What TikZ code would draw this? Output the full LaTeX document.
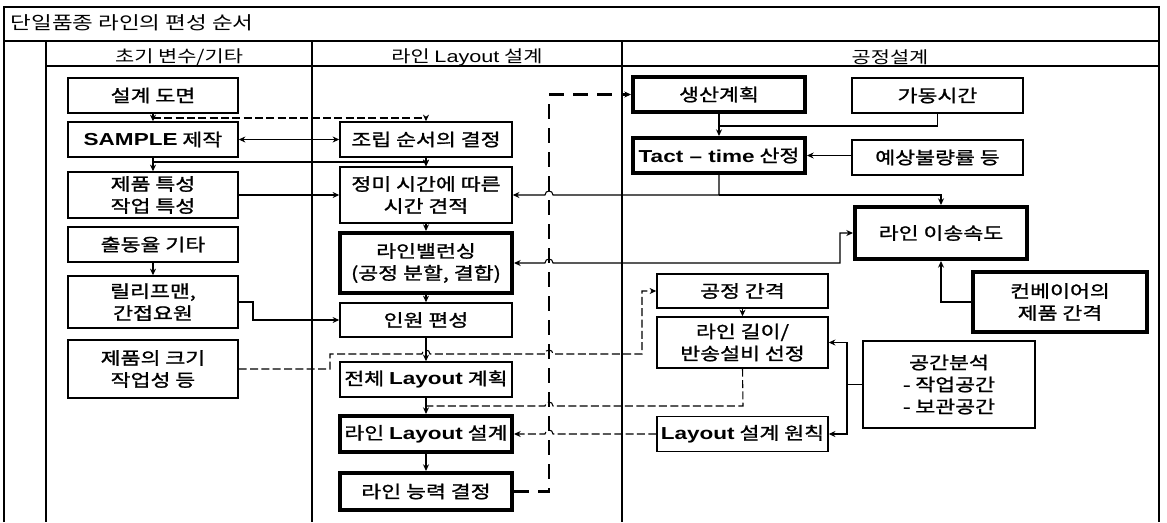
\documentclass[tikz,border=0pt]{standalone}
\usepackage{fontspec}
\setmainfont{Noto Sans CJK KR}[FakeStretch=1.25]
\newfontfamily\krb{Noto Sans CJK KR}[FakeStretch=1.25,FakeBold=1.2]
\newfontfamily\lat{Liberation Sans}[FakeStretch=1.3]
\usetikzlibrary{arrows.meta}
\newcommand\LB[1]{{\lat\bfseries #1}}
\newcommand\LR[1]{{\lat #1}}
\begin{document}
\begin{tikzpicture}[x=0.75pt,y=-0.75pt,
  box/.style={draw,line width=1.1pt,rectangle,align=center,inner sep=0pt,
    font=\krb\fontsize{13pt}{16.5pt}\selectfont},
  bold box/.style={box,line width=3pt},
  sz/.style 2 args={minimum width=#1*0.75pt,minimum height=#2*0.75pt},
  conn/.style={line width=0.8pt},
  dsh/.style={dash pattern=on 6pt off 2.5pt},
  bigdash/.style={line width=1.8pt,dash pattern=on 11pt off 7pt},
  frame/.style={line width=1.1pt},
  head/.style={font=\fontsize{12.5pt}{15pt}\selectfont},
  >={Stealth[length=5pt,width=4.5pt]}]
\useasboundingbox (0,0) rectangle (1167,522);

% frame, title row and lanes
\draw[frame] (4,522) -- (4,7) -- (1159,7) -- (1159,522);
\draw[frame] (4,41) -- (1159,41);
\draw[frame] (46,41) -- (46,522);
\draw[frame] (312,41) -- (312,522);
\draw[frame] (622,41) -- (622,522);
\draw[frame] (46,66) -- (1159,66);

\node[anchor=west,font=\fontsize{13.5pt}{16pt}\selectfont] (title) at (6,23) {단일품종 라인의 편성 순서};
\node[head] (h1) at (179,57) {초기 변수/기타};
\node[head] (h2) at (467,57) {라인 \LR{Layout} 설계};
\node[head] (h3) at (890,57) {공정설계};

% first lane
\node[box,sz={170}{35}] (d1) at (153,95.5) {설계 도면};
\node[box,sz={170}{35}] (sample) at (153,139.5) {\LB{SAMPLE} 제작};
\node[box,sz={170}{46}] (prod) at (153,195) {제품 특성\\작업 특성};
\node[box,sz={170}{35}] (att) at (153,244.5) {출동율 기타};
\node[box,sz={170}{52}] (relief) at (153,302) {릴리프맨,\\간접요원};
\node[box,sz={170}{58}] (size) at (153,369) {제품의 크기\\작업성 등};

% second lane
\node[box,sz={172}{35}] (asm) at (426,139.5) {조립 순서의 결정};
\node[box,sz={172}{56}] (net) at (426,195) {정미 시간에 따른\\시간 견적};
\node[bold box,sz={172}{60}] (bal) at (426,263) {라인밸런싱\\(공정 분할, 결합)};
\node[box,sz={172}{34}] (man) at (426,320) {인원 편성};
\node[box,sz={172}{35}] (whole) at (426,379.5) {전체 \LB{Layout} 계획};
\node[bold box,sz={172}{36}] (lay) at (426,434) {라인 \LB{Layout} 설계};
\node[bold box,sz={172}{37}] (cap) at (426,491.5) {라인 능력 결정};

% third lane
\node[bold box,sz={172}{35}] (plan) at (719,94.5) {생산계획};
\node[box,sz={171}{35}] (oper) at (937.5,95.5) {가동시간};
\node[bold box,sz={172}{35}] (tact) at (719,155.5) {\LB{Tact – time} 산정};
\node[box,sz={171}{35}] (defect) at (937.5,157.5) {예상불량률 등};
\node[bold box,sz={172}{52}] (speed) at (941,233) {라인 이송속도};
\node[bold box,sz={174}{60}] (conv) at (1060,302) {컨베이어의\\제품 간격};
\node[box,sz={171}{34}] (pitch) at (742.5,291) {공정 간격};
\node[box,sz={171}{51}] (len) at (742.5,342.5) {라인 길이/\\반송설비 선정};
\node[box,sz={172}{87}] (space) at (949,384.5) {공간분석\\- 작업공간\\- 보관공간};
\node[box,sz={171}{35}] (rule) at (742.5,434) {\LB{Layout} 설계 원칙};

% connectors of the first two lanes
\draw[conn,->] (d1) -- (sample);
\draw[conn,->,dsh] (d1.south |- 0,118) -| (asm.north);
\draw[conn,<->] (sample) -- (asm);
\draw[conn,->] (sample) -- (prod);
\draw[conn,->] (sample.south |- 0,162) -| (net.north);
\draw[conn,->] (asm) -- (net);
\draw[conn,->] (prod) -- (net);
\draw[conn,->] (att) -- (relief);
\draw[conn,->] (relief.east) -- (253,302) |- (man.west);
\draw[conn,->] (net) -- (bal);
\draw[conn,->] (bal) -- (man);
\draw[conn,->] (man) -- (whole);
\draw[conn,->] (whole) -- (lay);
\draw[conn,->] (lay) -- (cap);
\draw[conn,->,dsh] (size.east) -- (330,369) -- (330,354) -- (422,354)
  .. controls (422,348.7) and (430,348.7) .. (430,354) -- (545,354)
  .. controls (545,348.7) and (553,348.7) .. (553,354) -- (642,354) |- (pitch.west);

% feedback from line capacity to production planning
\draw[bigdash,->] (cap.east) -- (549,491.5) -- (549,94.5) -- (plan.west);

% connectors of the process lane
\draw[conn,->] (plan) -- (tact);
\draw[conn] (oper.south) |- (plan.south |- 0,126);
\draw[conn,->] (defect.west |- tact) -- (tact.east);
\draw[conn,->] (tact.south) -- (tact.south |- 0,195) -- (553,195)
  .. controls (553,189.7) and (545,189.7) .. (545,195) -- (net.east);
\draw[conn,->] (tact.south |- 0,195) -| (speed.north);
\draw[conn,<->] (speed.west) -- (840,233) -- (840,263) -- (553,263)
  .. controls (553,257.7) and (545,257.7) .. (545,263) -- (bal.east);
\draw[conn,->] (conv.west) -| (speed.south);
\draw[conn,->] (pitch) -- (len);
\draw[conn,dsh] (len.south) -- (743,406) -- (553,406)
  .. controls (553,400.7) and (545,400.7) .. (545,406) -- (426,406);
\coordinate (sp) at (847,384.5);
\draw[conn] (space.west) -- (sp);
\draw[conn,->] (sp) |- (len.east);
\draw[conn,->] (sp) |- (rule.east);
\draw[conn,->,dsh] (rule.west) -- (553,434)
  .. controls (553,428.7) and (545,428.7) .. (545,434) -- (lay.east);
\end{tikzpicture}
\end{document}
